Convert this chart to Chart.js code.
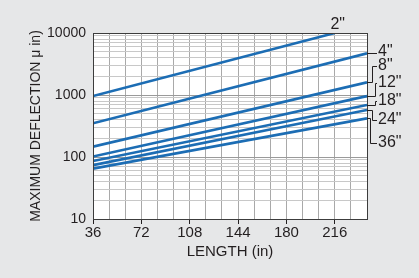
<!DOCTYPE html>
<html>
<head>
<meta charset="utf-8">
<script src="https://cdn.jsdelivr.net/npm/chart.js@4"></script>
<style>
  html, body { margin: 0; padding: 0; background: #e6e7e8; }
  #wrap { width: 419px; height: 278px; }
</style>
</head>
<body>
<div id="wrap"><canvas id="deflChart" width="419" height="278"></canvas></div>
<script>
// lengths (in) at the start and end of each line
const startLength = 36;
const endLength = 240;
const sizes = ['2"', '4"', '8"', '12"', '18"', '24"', '36"'];
// deflection (µ in) at the start / end of each line
const defl2 = [960, 10000];
const defl4 = [350, 4700];
const defl8 = [147, 1600];
const defl12 = [102, 960];
const defl18 = [86, 690];
const defl24 = [74, 573];
const defl36 = [65, 420];
const end2 = 216; // the 2" line runs off the top at 216
const xTickLabels = [36, 72, 108, 144, 180, 216];
const yTickLabels = [10, 100, 1000, 10000];

const series = [defl2, defl4, defl8, defl12, defl18, defl24, defl36];
const blue = "#1c6db4";
const ink = "#231f20";
const font = "'Liberation Sans Narrow', 'Liberation Sans', sans-serif";

// where the size labels sit to the right of the plot
const labelLayout = [
  null,
  { y: 52, knee: null },
  { y: 66, knee: 372 },
  { y: 83, knee: 375 },
  { y: 101, knee: 375 },
  { y: 119.5, knee: 372 },
  { y: 142.5, knee: 370 },
];

const frame = {
  id: "frame",
  beforeDraw(chart) {
    const { ctx, chartArea: a } = chart;
    ctx.save();
    ctx.fillStyle = "#e6e7e8";
    ctx.fillRect(0, 0, chart.width, chart.height);
    ctx.fillStyle = "#ffffff";
    ctx.fillRect(a.left, a.top, a.right - a.left, a.bottom - a.top);
    ctx.restore();
  },
  afterDraw(chart) {
    const { ctx, chartArea: a, scales } = chart;
    ctx.save();
    ctx.strokeStyle = "#3c3c3c";
    ctx.lineWidth = 1;
    ctx.strokeRect(a.left + 0.5, a.top + 0.5, a.right - a.left, a.bottom - a.top);

    ctx.fillStyle = ink;
    ctx.font = "16px " + font;
    ctx.textBaseline = "middle";
    // 2" label above its line end
    ctx.textAlign = "center";
    ctx.fillText(sizes[0], scales.x.getPixelForValue(end2) + 3, a.top - 8);

    ctx.textAlign = "left";
    ctx.strokeStyle = ink;
    for (let i = 1; i < series.length; i++) {
      const yEnd = Math.round(scales.y.getPixelForValue(series[i][1])) + 0.5;
      const l = labelLayout[i];
      ctx.beginPath();
      ctx.moveTo(a.right, yEnd);
      if (l.knee) {
        ctx.lineTo(l.knee + 0.5, yEnd);
        ctx.lineTo(l.knee + 0.5, Math.round(l.y) + 0.5);
        ctx.lineTo(377, Math.round(l.y) + 0.5);
      } else {
        ctx.lineTo(377, yEnd);
      }
      ctx.stroke();
      ctx.fillText(sizes[i], 378, l.y);
    }
    ctx.restore();
  },
};

const datasets = series.map((d, i) => ({
  label: sizes[i],
  data: [
    { x: startLength, y: d[0] },
    { x: i === 0 ? end2 : endLength, y: d[1] },
  ],
  borderColor: blue,
  borderWidth: 2.6,
  pointRadius: 0,
  fill: false,
}));

new Chart(document.getElementById("deflChart"), {
  type: "line",
  data: { datasets },
  plugins: [frame],
  options: {
    responsive: false,
    animation: false,
    layout: { padding: { left: 28, top: 33, right: 52, bottom: 0 } },
    plugins: { legend: { display: false }, tooltip: { enabled: false } },
    scales: {
      x: {
        type: "linear",
        min: startLength,
        max: endLength,
        afterBuildTicks(scale) {
          const t = [];
          for (let v = startLength; v <= endLength; v += 12) t.push({ value: v });
          scale.ticks = t;
        },
        afterFit(scale) {
          scale.height = 59;
        },
        ticks: {
          autoSkip: false,
          maxRotation: 0,
          padding: 0,
          color: ink,
          font: { family: font, size: 15 },
          callback: (v) => (xTickLabels.includes(v) ? String(v) : ""),
        },
        grid: {
          color: "#a9a9a9",
          tickLength: 5,
          tickColor: (c) => (xTickLabels.includes(c.tick && c.tick.value) ? ink : "rgba(0,0,0,0)"),
        },
        border: { color: ink, width: 1 },
        title: {
          display: true,
          text: "LENGTH (in)",
          color: ink,
          font: { family: font, size: 15 },
          padding: { top: 4, bottom: 17 },
        },
      },
      y: {
        type: "logarithmic",
        min: 10,
        max: 10000,
        afterBuildTicks(scale) {
          const t = [];
          for (let e = 1; e < 4; e++) {
            for (let m = 1; m < 10; m++) t.push({ value: m * Math.pow(10, e) });
          }
          t.push({ value: 10000 });
          scale.ticks = t;
        },
        afterFit(scale) {
          scale.width = 65;
        },
        ticks: {
          autoSkip: false,
          padding: 7,
          color: ink,
          font: { family: font, size: 14 },
          callback: (v) => (yTickLabels.includes(v) ? String(v) : ""),
        },
        grid: {
          drawTicks: false,
          color: (c) => (yTickLabels.includes(c.tick && c.tick.value) ? "#9a9a9a" : "#c8c8c8"),
        },
        border: { color: ink, width: 1 },
        title: {
          display: true,
          text: "MAXIMUM DEFLECTION μ in)",
          color: ink,
          font: { family: font, size: 14 },
          padding: 0,
        },
      },
    },
  },
});
</script>
</body>
</html>
